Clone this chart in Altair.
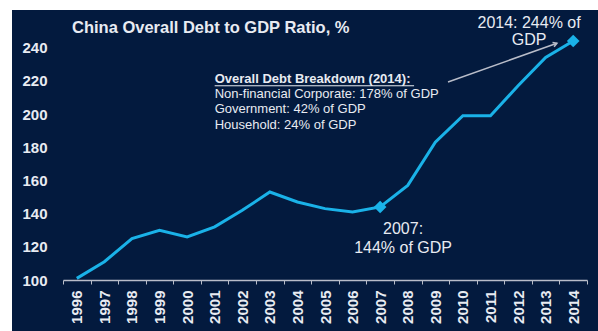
import altair as alt
import pandas as pd

# ---- data ----
years = [str(y) for y in range(1996, 2015)]
ratio = [101, 111, 125, 130, 126, 132, 142, 153, 147, 143, 141, 144,
         157, 183, 199, 199, 217, 234, 244]
highlight_years = ["2007", "2014"]
highlight_values = [144, 244]
y_ticks = [100, 120, 140, 160, 180, 200, 220, 240]

title_text = "China Overall Debt to GDP Ratio, %"
note_2014 = ["2014: 244% of", "GDP"]
note_2007 = ["2007:", "144% of GDP"]
breakdown_head = "Overall Debt Breakdown (2014):"
breakdown_lines = ["Non-financial Corporate: 178% of GDP",
                   "Government: 42% of GDP",
                   "Household: 24% of GDP"]

# annotation anchors in (year, ratio) units
note_2014_pos = (2012.4, 251.8)
note_2007_pos = (2007.83, 127.7)
head_pos = (2001.0, 218.5)
lines_pos = (2001.0, 209.8)
underline_pos = (2001.0, 2008.23, 217.0)
arrow_from = (2009.46, 219.3)
arrow_to = (2013.41, 242.6)

BG = "#031a3e"
LINE = "#1ab2e8"
TXT = "#e8ebf2"
GREY = "#b9bdc9"
FONT = "Liberation Sans"

df = pd.DataFrame({"year": years, "ratio": ratio})
hl = pd.DataFrame({"year": highlight_years, "ratio": highlight_values})

y_scale = alt.Scale(domain=[100, 250], nice=False, zero=False)
x_band = alt.Scale(type="band", domain=years, paddingInner=0, paddingOuter=0)

x_enc = alt.X("year:O", scale=x_band, bandPosition=0.5, title=None,
              axis=alt.Axis(tickBand="extent", labelAngle=-90, labelFontSize=15,
                            labelFontWeight="bold", labelColor=TXT, labelFont=FONT,
                            domainColor=GREY, tickColor=GREY, tickSize=4,
                            labelPadding=6, grid=False, domainWidth=1.5, zindex=1))
y_enc = alt.Y("ratio:Q", scale=y_scale, title=None,
              axis=alt.Axis(values=y_ticks, domain=False, ticks=False, grid=False,
                            labelFontSize=15, labelFontWeight="bold", labelColor=TXT,
                            labelFont=FONT, labelPadding=16, zindex=1))

bg = alt.Chart(pd.DataFrame({"a": [0]})).mark_rect(color=BG).encode(
    x=alt.value(-51), x2=alt.value(535), y=alt.value(-21), y2=alt.value(300))

line = alt.Chart(df).mark_line(color=LINE, strokeWidth=3).encode(x=x_enc, y=y_enc)
pts = alt.Chart(hl).mark_point(shape="diamond", filled=True, color=LINE, size=160,
                               opacity=1).encode(x=x_enc, y=y_enc)
main = alt.layer(line, pts)

xq = alt.Scale(domain=[1995.5, 2014.5], nice=False, zero=False)

def qx(f="x"):
    return alt.X(f + ":Q", scale=xq, axis=None, title=None)

t2014 = alt.Chart(pd.DataFrame({"x": [note_2014_pos[0]], "ratio": [note_2014_pos[1]],
                                "t": [note_2014]})).mark_text(
    align="center", baseline="alphabetic", fontSize=16, lineHeight=17,
    color=TXT, font=FONT).encode(x=qx(), y=y_enc, text="t")
t2007 = alt.Chart(pd.DataFrame({"x": [note_2007_pos[0]], "ratio": [note_2007_pos[1]],
                                "t": [note_2007]})).mark_text(
    align="center", baseline="alphabetic", fontSize=16, lineHeight=19,
    color=TXT, font=FONT).encode(x=qx(), y=y_enc, text="t")
thead = alt.Chart(pd.DataFrame({"x": [head_pos[0]], "ratio": [head_pos[1]],
                                "t": [breakdown_head]})).mark_text(
    align="left", baseline="alphabetic", fontSize=13, fontWeight="bold",
    color=TXT, font=FONT).encode(x=qx(), y=y_enc, text="t")
tlines = alt.Chart(pd.DataFrame({"x": [lines_pos[0]], "ratio": [lines_pos[1]],
                                 "t": [breakdown_lines]})).mark_text(
    align="left", baseline="alphabetic", fontSize=13, lineHeight=15.5,
    color=TXT, font=FONT).encode(x=qx(), y=y_enc, text="t")
uline = alt.Chart(pd.DataFrame({"x": [underline_pos[0]], "x2": [underline_pos[1]],
                                "ratio": [underline_pos[2]]})).mark_rule(
    color=TXT, strokeWidth=1).encode(x=qx(), x2="x2:Q", y=y_enc)
arrow = alt.Chart(pd.DataFrame({"x": [arrow_from[0]], "x2": [arrow_to[0]],
                                "ratio": [arrow_from[1]], "y2": [arrow_to[1]]})).mark_rule(
    color=GREY, strokeWidth=1.5).encode(x=qx(), x2="x2:Q", y=y_enc, y2="y2:Q")
head = alt.Chart(pd.DataFrame({"x": [arrow_to[0]], "ratio": [arrow_to[1]]})).mark_point(
    shape="M-1,-0.6L0,0L-1,0.6", filled=False, color=GREY, strokeWidth=1.5,
    size=60, angle=340, opacity=1).encode(x=qx(), y=y_enc)
annot = alt.layer(t2014, t2007, thead, tlines, uline, arrow, head)

chart = alt.layer(bg, main, annot).resolve_scale(x="independent").properties(
    width=524, height=249,
    title=alt.Title(title_text, anchor="start", frame="group", dx=9, dy=27, offset=1,
                    fontSize=16.5, fontWeight="bold", color=TXT, font=FONT, zindex=1),
    autosize=alt.AutoSizeParams(type="none"),
    padding={"left": 63, "top": 31, "right": 11, "bottom": 51},
    background="white",
).configure_view(stroke=None)

chart.save("out.html", embed_options={"renderer": "svg", "actions": False})
